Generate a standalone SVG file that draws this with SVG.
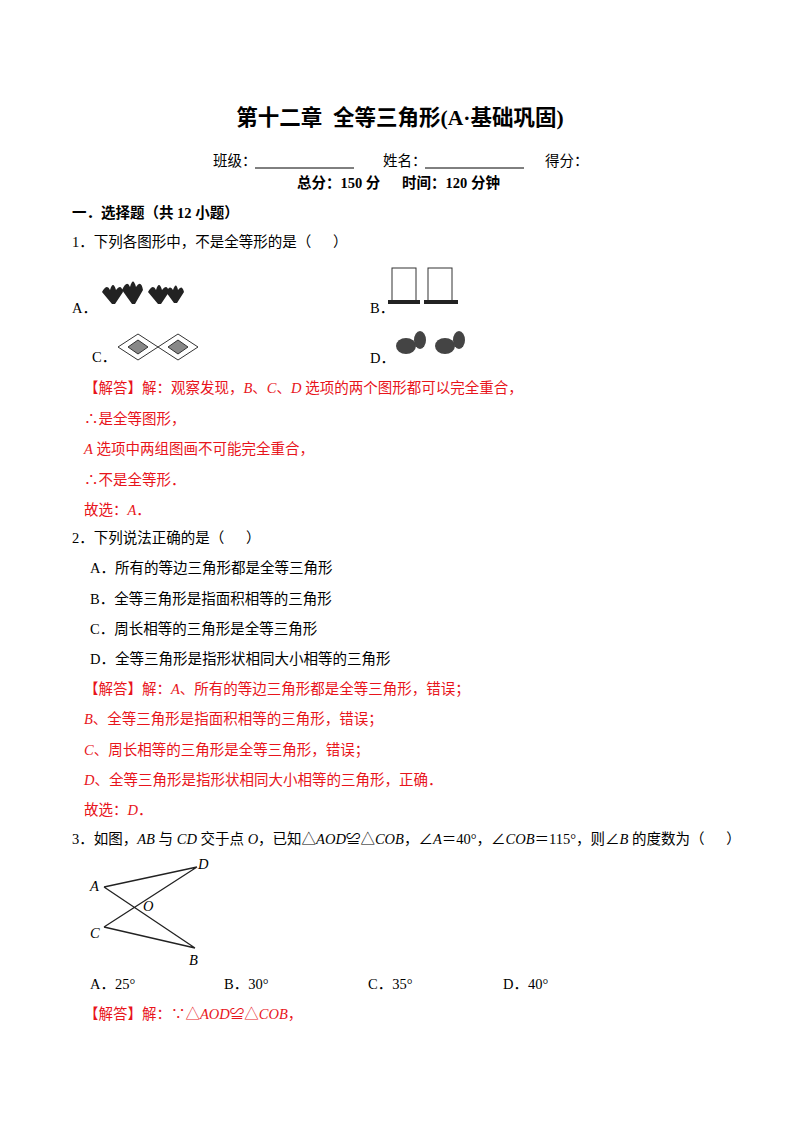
<svg xmlns="http://www.w3.org/2000/svg" width="800" height="1132" viewBox="0 0 800 1132">
<style>
text{font-family:"Liberation Serif","Noto Sans CJK SC",serif;font-size:14.5px;fill:#000;white-space:pre}
.r{fill:#e8141b}
.b{font-weight:bold}
.i{font-style:italic}
.fig{fill:none;stroke:#222;stroke-width:1.3}
</style>
<rect width="800" height="1132" fill="#fff"/>
<text x="400" y="125" text-anchor="middle" class="b" style="font-size:21.5px">第十二章  全等三角形(A·基础巩固)</text>
<text x="213" y="166">班级：</text><line x1="255" y1="168" x2="354" y2="168" stroke="#000"/>
<text x="383" y="166">姓名：</text><line x1="425" y1="168" x2="524" y2="168" stroke="#000"/>
<text x="545" y="166">得分：</text>
<text x="297" y="188" class="b">总分：150 分      时间：120 分钟</text>
<text x="72" y="218" class="b">一．选择题（共 12 小题）</text>
<text x="72" y="247">1．下列各图形中，不是全等形的是（      ）</text>
<text x="72" y="313">A．</text>
<g fill="#222">
<path d="M102 292 q5 -9 8 -2 q3 -10 6 0 q5 -7 7 2 l-8 12 h-3z M122 290 q5 -11 8 -3 q3 -11 6 0 q5 -8 7 3 l-8 14 h-3z M148 292 q5 -9 8 -2 q3 -10 6 0 q5 -7 7 2 l-8 12 h-3z M166 292 q4 -8 7 -2 q3 -9 5 0 q4 -6 6 2 l-7 11 h-3z"/>
</g>
<text x="370" y="313">B．</text>
<g fill="none" stroke="#333"><rect x="392" y="268" width="24" height="34"/><rect x="428" y="268" width="24" height="34"/></g>
<g fill="#222"><rect x="388" y="300" width="32" height="4"/><rect x="424" y="300" width="34" height="4"/></g>
<text x="92" y="362">C．</text>
<g fill="none" stroke="#333"><path d="M118 347 L138 334 L158 347 L138 360Z M158 347 L178 334 L198 347 L178 360Z"/></g>
<g fill="#888" stroke="#333"><path d="M128 347 L138 340 L148 347 L138 354Z M168 347 L178 340 L188 347 L178 354Z"/></g>
<text x="370" y="363">D．</text>
<g fill="#444"><ellipse cx="406" cy="346" rx="10" ry="8"/><ellipse cx="445" cy="346" rx="10" ry="8"/><ellipse cx="420" cy="340" rx="6" ry="9"/><ellipse cx="459" cy="340" rx="6" ry="9"/></g>
<text x="84" y="393" class="r">【解答】解：观察发现，<tspan class="i">B</tspan>、<tspan class="i">C</tspan>、<tspan class="i">D</tspan> 选项的两个图形都可以完全重合，</text>
<text x="84" y="424" class="r">∴是全等图形，</text>
<text x="84" y="454" class="r"><tspan class="i">A</tspan> 选项中两组图画不可能完全重合，</text>
<text x="84" y="485" class="r">∴不是全等形．</text>
<text x="84" y="515" class="r">故选：<tspan class="i">A</tspan>．</text>
<text x="72" y="543">2．下列说法正确的是（      ）</text>
<text x="90" y="573">A．所有的等边三角形都是全等三角形</text>
<text x="90" y="604">B．全等三角形是指面积相等的三角形</text>
<text x="90" y="634">C．周长相等的三角形是全等三角形</text>
<text x="90" y="664">D．全等三角形是指形状相同大小相等的三角形</text>
<text x="84" y="694" class="r">【解答】解：<tspan class="i">A</tspan>、所有的等边三角形都是全等三角形，错误；</text>
<text x="84" y="724" class="r"><tspan class="i">B</tspan>、全等三角形是指面积相等的三角形，错误；</text>
<text x="84" y="755" class="r"><tspan class="i">C</tspan>、周长相等的三角形是全等三角形，错误；</text>
<text x="84" y="785" class="r"><tspan class="i">D</tspan>、全等三角形是指形状相同大小相等的三角形，正确．</text>
<text x="84" y="815" class="r">故选：<tspan class="i">D</tspan>．</text>
<text x="72" y="844">3．如图，<tspan class="i">AB</tspan> 与 <tspan class="i">CD</tspan> 交于点 <tspan class="i">O</tspan>，已知△<tspan class="i">AOD</tspan>≌△<tspan class="i">COB</tspan>，∠<tspan class="i">A</tspan>＝40°，∠<tspan class="i">COB</tspan>＝115°，则∠<tspan class="i">B</tspan> 的度数为（      ）</text>
<g class="fig"><path d="M104 887 L197 867 M104 887 L195 948 M197 867 L104 927 M104 927 L195 948"/></g>
<g class="i" style="font-size:13px">
<text x="198" y="869">D</text><text x="90" y="891">A</text><text x="143" y="911">O</text><text x="90" y="938">C</text><text x="189" y="965">B</text>
</g>
<text x="90" y="989">A．25°</text>
<text x="224" y="989">B．30°</text>
<text x="368" y="989">C．35°</text>
<text x="503" y="989">D．40°</text>
<text x="84" y="1019" class="r">【解答】解：∵△<tspan class="i">AOD</tspan>≌△<tspan class="i">COB</tspan>，</text>
</svg>
